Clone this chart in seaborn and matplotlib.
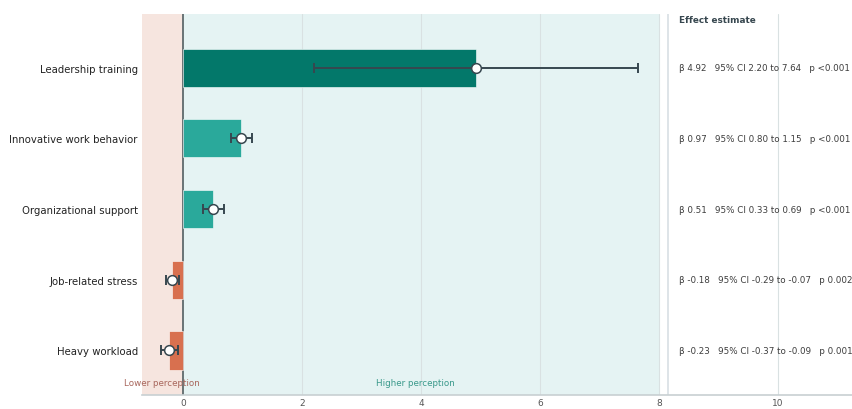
import matplotlib
matplotlib.use("Agg")
import matplotlib.pyplot as plt
import seaborn as sns
import pandas as pd

categories = ["Leadership training", "Innovative work behavior", "Organizational support",
              "Job-related stress", "Heavy workload"]
beta = [4.92, 0.97, 0.51, -0.18, -0.23]
ci_low = [2.20, 0.80, 0.33, -0.29, -0.37]
ci_high = [7.64, 1.15, 0.69, -0.07, -0.09]
p_labels = ["p <0.001", "p <0.001", "p <0.001", "p 0.002", "p 0.001"]
bar_colors = ["#03786a", "#2aa99b", "#2aa99b", "#d8704f", "#d8704f"]
xticks = [0, 2, 4, 6, 8, 10]

sns.set_style("white")
plt.rcParams['font.family'] = ['DejaVu Sans']

df = pd.DataFrame({"cat": categories, "beta": beta})

fig = plt.figure(figsize=(8.52, 4.10), dpi=100)
ax = fig.add_axes([142/852, 14/410, 710/852, 381/410])

xmin, xmax = -0.69, 11.24
ax.axvspan(xmin, 0, color="#f6e5df", zorder=0, lw=0)
ax.axvspan(0, 8, color="#e5f3f3", zorder=0, lw=0)
for t in xticks[1:]:
    ax.axvline(t, color="#d9e1e2", lw=0.8, zorder=0.5)
ax.axvline(8.15, color="#dbe2e6", lw=1.3, zorder=0.5)
ax.axvline(0, color="#5e6a6c", lw=1.3, zorder=1)

sns.barplot(data=df, x="beta", y="cat", hue="cat", palette=bar_colors, legend=False,
            orient="h", width=0.54, ax=ax, zorder=2, edgecolor="#ffffff", linewidth=0.4,
            saturation=1)

ypos = list(range(len(categories)))
err_lo = [b - l for b, l in zip(beta, ci_low)]
err_hi = [h - b for b, h in zip(beta, ci_high)]
ax.errorbar(beta, ypos, xerr=[err_lo, err_hi], fmt="none", ecolor="#37474f",
            elinewidth=1.4, capsize=3.5, capthick=1.4, zorder=3)
ax.plot(beta, ypos, "o", markerfacecolor="white", markeredgecolor="#37474f",
        markersize=7, markeredgewidth=1.1, zorder=4, linestyle="none")

for i, (b, l, h, p) in enumerate(zip(beta, ci_low, ci_high, p_labels)):
    ax.text(8.34, i, f"β {b:.2f}   95% CI {l:.2f} to {h:.2f}   {p}", va="center",
            ha="left", fontsize=6.3, color="#3d3d3d", zorder=5)
ax.text(8.34, -0.68, "Effect estimate", fontsize=6.4, fontweight="bold",
        color="#37474f", va="center", ha="left")

ax.text(-0.35, 4.45, "Lower perception", color="#a8665c", fontsize=6.3,
        ha="center", va="center")
ax.text(3.9, 4.45, "Higher perception", color="#3a998b", fontsize=6.3,
        ha="center", va="center")

ax.set_xlim(xmin, xmax)
ax.set_ylim(4.63, -0.76)
ax.set_xticks(xticks)
ax.set_xlabel("")
ax.set_ylabel("")
ax.tick_params(axis="x", length=0, pad=2, labelsize=6.5, labelcolor="#555555")
ax.tick_params(axis="y", length=0, pad=3, labelsize=7.3, labelcolor="#222222")
for s in ["top", "right", "left"]:
    ax.spines[s].set_visible(False)
ax.spines["bottom"].set_color("#c8d0d2")
ax.spines["bottom"].set_linewidth(1.2)

fig.savefig("out.png", dpi=100)
